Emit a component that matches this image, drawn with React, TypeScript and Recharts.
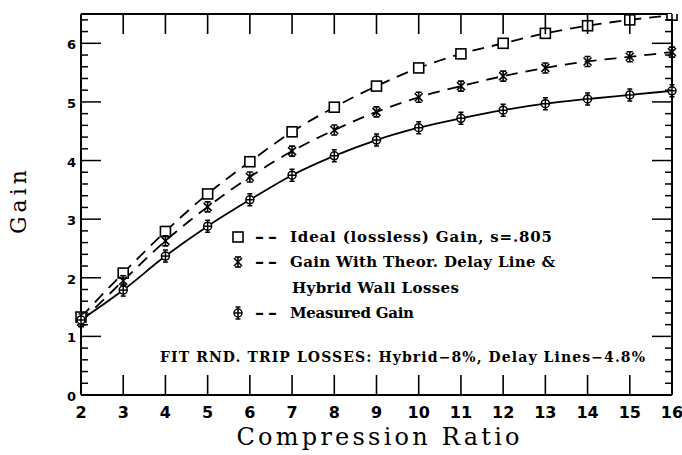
import React from "react";
import { LineChart, Line, XAxis, YAxis } from "recharts";

const compressionRatio = [2, 3, 4, 5, 6, 7, 8, 9, 10, 11, 12, 13, 14, 15, 16];
const idealGain = [1.33, 2.08, 2.79, 3.43, 3.98, 4.49, 4.91, 5.27, 5.58, 5.82, 6.0, 6.17, 6.3, 6.4, 6.48];
const theoreticalGain = [1.25, 1.95, 2.63, 3.21, 3.72, 4.16, 4.52, 4.83, 5.08, 5.27, 5.44, 5.58, 5.69, 5.77, 5.85];
const measuredGain = [1.28, 1.79, 2.37, 2.88, 3.33, 3.75, 4.08, 4.35, 4.56, 4.72, 4.86, 4.97, 5.05, 5.12, 5.19];

const xTicks = [2, 3, 4, 5, 6, 7, 8, 9, 10, 11, 12, 13, 14, 15, 16];
const yTicks = [0, 0.2, 0.4, 0.6, 0.8, 1, 1.2, 1.4, 1.6, 1.8, 2, 2.2, 2.4, 2.6, 2.8, 3, 3.2, 3.4, 3.6, 3.8, 4, 4.2, 4.4, 4.6, 4.8, 5, 5.2, 5.4, 5.6, 5.8, 6, 6.2, 6.4];
const yLabels = [0, 1, 2, 3, 4, 5, 6];

const legendIdeal = "Ideal (lossless) Gain, s=.805";
const legendTheor1 = "Gain With Theor. Delay Line &";
const legendTheor2 = "Hybrid Wall Losses";
const legendMeasured = "Measured Gain";
const fitNote = "FIT RND. TRIP LOSSES: Hybrid\u22128%, Delay Lines\u22124.8%";

const data = compressionRatio.map((r, i) => ({
  ratio: r,
  ideal: idealGain[i],
  theor: theoreticalGain[i],
  measured: measuredGain[i],
}));

const isMajor = (v: number) => yLabels.some((l) => Math.abs(l - v) < 1e-6);

const BottomTick = (p: any) => (
  <g>
    <line x1={p.x} x2={p.x} y1={p.y} y2={p.y - 20} stroke="#000" strokeWidth={1.6} />
    <text x={p.x} y={p.y + 23} textAnchor="middle" fontFamily="DejaVu Sans" fontWeight="bold" fontSize={16} fill="#000">
      {p.payload.value}
    </text>
  </g>
);

const TopTick = (p: any) => (
  <line x1={p.x} x2={p.x} y1={p.y} y2={p.y + 20} stroke="#000" strokeWidth={1.6} />
);

const LeftTick = (p: any) => {
  const v = p.payload.value;
  const major = isMajor(v);
  return (
    <g>
      <line x1={p.x} x2={p.x + (major ? 20 : 7)} y1={p.y} y2={p.y} stroke="#000" strokeWidth={1.5} />
      {major && (
        <text x={p.x - 5} y={p.y + 6} textAnchor="end" fontFamily="DejaVu Sans" fontWeight="bold" fontSize={13} fill="#000">
          {Math.round(v)}
        </text>
      )}
    </g>
  );
};

const RightTick = (p: any) => {
  const v = p.payload.value;
  const major = isMajor(v);
  return <line x1={p.x} x2={p.x - (major ? 20 : 7)} y1={p.y} y2={p.y} stroke="#000" strokeWidth={1.5} />;
};

const SquareMark = ({ cx, cy }: { cx: number; cy: number }) => (
  <rect x={cx - 5} y={cy - 5} width={10} height={10} fill="#fff" stroke="#000" strokeWidth={1.6} />
);
const StarMark = ({ cx, cy }: { cx: number; cy: number }) => (
  <g stroke="#000" strokeWidth={1.6}>
    <line x1={cx - 4} y1={cy - 4} x2={cx + 4} y2={cy + 4} />
    <line x1={cx - 4} y1={cy + 4} x2={cx + 4} y2={cy - 4} />
    <line x1={cx} y1={cy - 5} x2={cx} y2={cy + 5} />
    <line x1={cx - 3} y1={cy - 5} x2={cx + 3} y2={cy - 5} />
    <line x1={cx - 3} y1={cy + 5} x2={cx + 3} y2={cy + 5} />
  </g>
);
const CircleMark = ({ cx, cy }: { cx: number; cy: number }) => (
  <g stroke="#000" strokeWidth={1.5}>
    <circle cx={cx} cy={cy} r={4} fill="#fff" />
    <line x1={cx} y1={cy - 6} x2={cx} y2={cy + 6} />
    <line x1={cx - 4} y1={cy} x2={cx + 4} y2={cy} />
    <line x1={cx - 2.5} y1={cy - 6} x2={cx + 2.5} y2={cy - 6} />
    <line x1={cx - 2.5} y1={cy + 6} x2={cx + 2.5} y2={cy + 6} />
  </g>
);

const dotFn = (Comp: any) => (p: any) => <Comp key={p.key ?? p.index} cx={p.cx} cy={p.cy} />;

const axisLine = { stroke: "#000", strokeWidth: 2 };

export default function App() {
  const legendFont = { fontFamily: "DejaVu Serif", fontWeight: "bold" as const, fontSize: 15, fill: "#000" };
  const dashFont = { fontFamily: "DejaVu Serif", fontWeight: "bold" as const, fontSize: 18, fill: "#000", letterSpacing: 4 };
  return (
    <div style={{ position: "absolute", left: 0, top: 0, width: 682, height: 455, background: "#fff" }}>
      <LineChart width={682} height={455} data={data} margin={{ top: 0, right: 0, bottom: 0, left: 0 }}>
        <XAxis xAxisId="b" dataKey="ratio" type="number" domain={[2, 16]} ticks={xTicks} interval={0}
          height={60} tickSize={0} tickMargin={0} tick={BottomTick} axisLine={axisLine} tickLine={false} />
        <XAxis xAxisId="t" orientation="top" dataKey="ratio" type="number" domain={[2, 16]} ticks={xTicks} interval={0}
          height={14} tickSize={0} tickMargin={0} tick={TopTick} axisLine={axisLine} tickLine={false} />
        <YAxis yAxisId="l" type="number" domain={[0, 6.5]} ticks={yTicks} interval={0} width={81}
          tickSize={0} tickMargin={0} tick={LeftTick} axisLine={axisLine} tickLine={false} allowDataOverflow />
        <YAxis yAxisId="r" orientation="right" type="number" domain={[0, 6.5]} ticks={yTicks} interval={0} width={10}
          tickSize={0} tickMargin={0} tick={RightTick} axisLine={axisLine} tickLine={false} allowDataOverflow />
        <Line xAxisId="b" yAxisId="l" dataKey="ideal" type="monotone" stroke="#000" strokeWidth={1.8}
          strokeDasharray="12 8" dot={dotFn(SquareMark)} isAnimationActive={false} />
        <Line xAxisId="b" yAxisId="l" dataKey="theor" type="monotone" stroke="#000" strokeWidth={1.8}
          strokeDasharray="12 8" dot={dotFn(StarMark)} isAnimationActive={false} />
        <Line xAxisId="t" yAxisId="r" dataKey="measured" type="monotone" stroke="#000" strokeWidth={1.8}
          dot={dotFn(CircleMark)} isAnimationActive={false} />
      </LineChart>
      <svg width={682} height={455} style={{ position: "absolute", left: 0, top: 0, pointerEvents: "none" }}>
        <text x={26} y={202} transform="rotate(-90 26 202)" textAnchor="middle" fontFamily="DejaVu Serif" fontSize={22} fill="#000" textLength={64} lengthAdjust="spacing">
          Gain
        </text>
        <text x={378} y={445} textAnchor="middle" fontFamily="DejaVu Serif" fontSize={24} fill="#000" textLength={283} lengthAdjust="spacing">
          Compression Ratio
        </text>
        <SquareMark cx={238} cy={237} />
        <text x={255} y={243} {...dashFont}>––</text>
        <text x={290} y={242} {...legendFont} textLength={262} lengthAdjust="spacing">{legendIdeal}</text>
        <StarMark cx={238} cy={262} />
        <text x={255} y={268} {...dashFont}>––</text>
        <text x={290} y={267} {...legendFont} textLength={265} lengthAdjust="spacing">{legendTheor1}</text>
        <text x={292} y={293} {...legendFont} textLength={167} lengthAdjust="spacing">{legendTheor2}</text>
        <CircleMark cx={238} cy={313} />
        <text x={255} y={319} {...dashFont}>––</text>
        <text x={290} y={318} {...legendFont} textLength={124} lengthAdjust="spacing">{legendMeasured}</text>
        <text x={160} y={362} {...legendFont} fontSize={14} textLength={485} lengthAdjust="spacing">{fitNote}</text>
      </svg>
    </div>
  );
}
